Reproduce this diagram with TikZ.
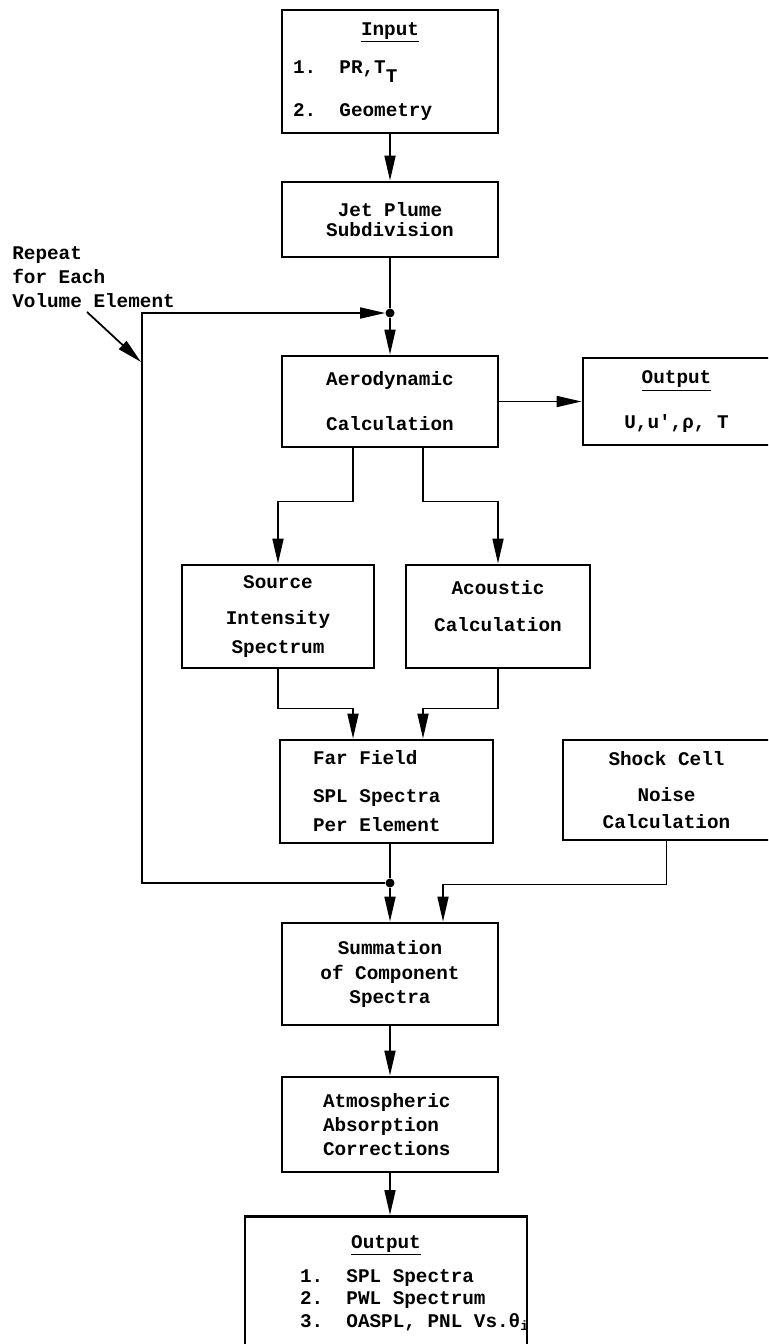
\documentclass[tikz,border=0pt]{standalone}
\usepackage{fontspec}
\setmonofont{Liberation Mono}
\usetikzlibrary{arrows.meta, calc}

\begin{document}
\begin{tikzpicture}[
    x=0.02cm, y=-0.02cm,
    block/.style={rectangle, draw, line width=1.6pt, inner sep=0pt, align=center, font=\ttfamily\bfseries\fontsize{11}{13.6}\selectfont},
    leftblock/.style={block, align=left, execute at begin node={\spaceskip=0pt\xspaceskip=0pt\relax}},
    note/.style={inner sep=0pt, align=left, font=\ttfamily\bfseries\fontsize{11}{13.6}\selectfont, execute at begin node={\spaceskip=0pt\xspaceskip=0pt\relax}},
    dot/.style={circle, fill, inner sep=0pt, minimum size=0.18cm},
    line/.style={line width=1pt},
    arrow/.style={line width=1pt, -{Triangle[length=0.5cm, width=0.22cm]}}
]
    \useasboundingbox (0,0) rectangle (768,1344);
    \clip (0,0) rectangle (768,1344);

    \node [leftblock, minimum width=4.32cm, minimum height=2.46cm, text width=3.88cm, inner xsep=0.22cm] (input) at (390,71.5)
        {\makebox[\linewidth]{\underline{Input}}\\[8pt]1.\ \ PR,T\raisebox{-0.9ex}{T}\\[11pt]2.\ \ Geometry};
    \node [block, minimum width=4.32cm, minimum height=1.5cm] (jet) at (390,219.5) {Jet Plume\\[-2.5pt]Subdivision};
    \node [dot] (topdot) at (390,313) {};
    \node [block, minimum width=4.32cm, minimum height=1.82cm] (aero) at (390,401.5) {Aerodynamic\\[12pt]Calculation};
    \node [block, minimum width=3.74cm, minimum height=1.74cm] (out1) at (676.5,401.5) {\underline{Output}\\[12pt]U,u',ρ, T};
    \node [block, minimum width=3.84cm, minimum height=2.06cm] (source) at (278,616.5) {Source\\[7pt]Intensity\\[3pt]Spectrum};
    \node [block, minimum width=3.68cm, minimum height=2.06cm] (acoustic) at (498,616.5) {Acoustic\\[7pt]Calculation\\[-1.6pt]\mbox{}};
    \node [leftblock, minimum width=4.26cm, minimum height=2.06cm, text width=2.94cm, inner xsep=0.66cm] (far) at (386.5,791.5)
        {Far Field\\[8pt]SPL Spectra\\[3pt]Per Element};
    \node [block, minimum width=4.14cm, minimum height=2cm] (shock) at (666.5,790) {Shock Cell\\[7pt]Noise\\[2pt]Calculation};
    \node [dot] (botdot) at (390,883) {};
    \node [block, minimum width=4.32cm, minimum height=2.04cm] (summ) at (390,974) {Summation\\[0.5pt]of Component\\[0.5pt]Spectra};
    \node [leftblock, minimum width=4.32cm, minimum height=1.9cm, text width=2.68cm, inner xsep=0.82cm] (atmos) at (390,1124.5)
        {Atmospheric\\Absorption\\Corrections};
    \node [leftblock, anchor=north, text width=3.44cm, inner xsep=1.1cm, inner ysep=0.38cm] (out2) at (386,1215)
        {\makebox[\linewidth]{\underline{Output}}\\[6pt]\mbox{1.\ \ SPL Spectra}\\[-1pt]\mbox{2.\ \ PWL Spectrum}\\[-1pt]\mbox{3.\ \ OASPL, PNL Vs.θ\textsubscript{i}}\\[10pt]\mbox{}};

    \node [note, anchor=west] (repeatlbl) at (12,277) {Repeat\\for Each\\Volume Element};
    \coordinate (rptfrom) at (87,312);
    \coordinate (rptto) at (141,362);

    \draw [arrow] (input) -- (jet);
    \draw [line] (jet) -- (topdot);
    \draw [arrow] (topdot) -- (aero);
    \draw [arrow] (aero) -- (out1);
    \draw [arrow] ($(aero.south)+(-37,0)$) -- ++(0,53) -| (source);
    \draw [arrow] ($(aero.south)+(33,0)$) -- ++(0,53) -| (acoustic);
    \draw [arrow] (source.south) -- ++(0,39) -| ($(far.north)+(-33.5,0)$);
    \draw [arrow] (acoustic.south) -- ++(0,39) -| ($(far.north)+(36.5,0)$);
    \draw [line] (far.south -| botdot) -- (botdot);
    \draw [arrow] (botdot) -- (summ);
    \draw [arrow] (shock.south) -- ++(0,43) -| ($(summ.north)+(53,0)$);
    \draw [arrow] (botdot) -- ++(-248,0) |- (topdot);
    \draw [arrow] (rptfrom) -- (rptto);
    \draw [arrow] (summ) -- (atmos);
    \draw [arrow] (atmos) -- (atmos |- out2.north);
\end{tikzpicture}
\end{document}
